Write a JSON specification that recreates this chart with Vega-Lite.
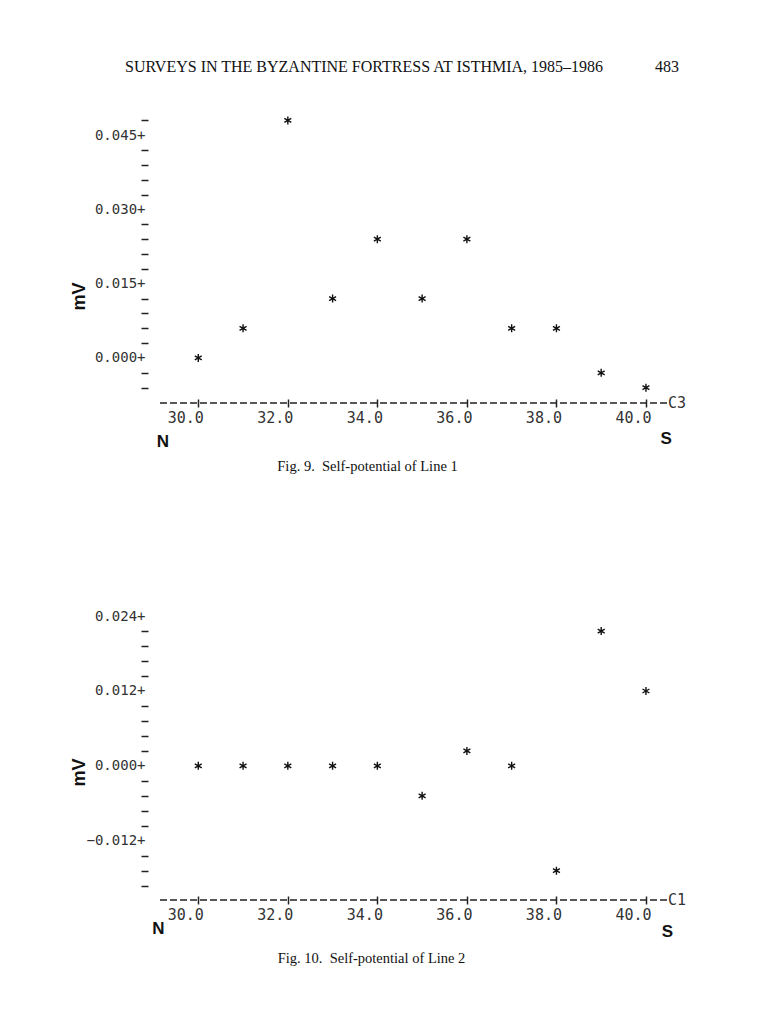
{
  "$schema": "https://vega.github.io/schema/vega-lite/v6.json",
  "background": "white",
  "padding": {"left": 70, "top": 59, "right": 10, "bottom": 10},
  "title": {
    "text": "SURVEYS IN THE BYZANTINE FORTRESS AT ISTHMIA, 1985–1986\u00a0\u00a0\u00a0\u00a0\u00a0\u00a0\u00a0\u00a0\u00a0\u00a0\u00a0\u00a0\u00a0483",
    "font": "Liberation Serif", "fontSize": 16, "fontWeight": "normal", "color": "#111",
    "anchor": "start", "dx": 55, "offset": 38
  },
  "spacing": 136,
  "config": {"view": {"stroke": null}},
  "datasets": {
    "line1": [
      {"pos": 30, "mv": 0.0}, {"pos": 31, "mv": 0.006}, {"pos": 32, "mv": 0.048},
      {"pos": 33, "mv": 0.012}, {"pos": 34, "mv": 0.024}, {"pos": 35, "mv": 0.012},
      {"pos": 36, "mv": 0.024}, {"pos": 37, "mv": 0.006}, {"pos": 38, "mv": 0.006},
      {"pos": 39, "mv": -0.003}, {"pos": 40, "mv": -0.006}
    ],
    "line2": [
      {"pos": 30, "mv": 0.0}, {"pos": 31, "mv": 0.0}, {"pos": 32, "mv": 0.0},
      {"pos": 33, "mv": 0.0}, {"pos": 34, "mv": 0.0}, {"pos": 35, "mv": -0.0048},
      {"pos": 36, "mv": 0.0024}, {"pos": 37, "mv": 0.0}, {"pos": 38, "mv": -0.0168},
      {"pos": 39, "mv": 0.0216}, {"pos": 40, "mv": 0.012}
    ]
  },
  "vconcat": [
    {
      "width": 509, "height": 285,
      "layer": [
        {
          "data": {"name": "line1"},
          "mark": {"type": "point", "shape": "M0,-1L0,1M-0.87,-0.5L0.87,0.5M-0.87,0.5L0.87,-0.5", "filled": false, "stroke": "#111", "strokeWidth": 1.4, "size": 64, "opacity": 1},
          "encoding": {
            "x": {
              "field": "pos", "type": "quantitative",
              "scale": {"domain": [29.1, 40.47], "nice": false, "zero": false},
              "axis": {
                "values": [30, 32, 34, 36, 38, 40], "format": ".1f", "tickCount": 100,
                "labelFont": "DejaVu Sans Mono", "labelFontSize": 15, "labelColor": "#333",
                "labelOffset": -13, "labelPadding": 3, "labelFlush": false, "labelOverlap": false,
                "tickSize": 8, "tickWidth": 1.5, "tickColor": "#222", "offset": -4,
                "domain": false, "grid": false,
                "title": "Fig. 9.\u00a0 Self-potential of Line 1",
                "titleFont": "Liberation Serif", "titleFontSize": 14.5, "titleFontWeight": "normal", "titleColor": "#111",
                "titleX": 209, "titleY": 67, "titleAlign": "center", "titleBaseline": "middle"
              }
            },
            "y": {
              "field": "mv", "type": "quantitative",
              "scale": {"domain": [-0.0091, 0.0485], "nice": false, "zero": false},
              "axis": {
                "values": [0.048, 0.045, 0.042, 0.039, 0.036, 0.033, 0.03, 0.027, 0.024, 0.021, 0.018, 0.015, 0.012, 0.009, 0.006, 0.003, 0, -0.003, -0.006],
                "tickCount": 100,
                "labelExpr": "indexof([0.045, 0.03, 0.015, 0], datum.value) >= 0 ? format(datum.value, '.3f') + '+' : ''",
                "labelFont": "DejaVu Sans Mono", "labelFontSize": 14, "labelColor": "#333",
                "labelPadding": -4, "labelFlush": false, "labelOverlap": false,
                "tickSize": 7, "tickWidth": 1.5, "tickColor": "#222",
                "tickOpacity": {"condition": {"test": "indexof([0.045, 0.03, 0.015, 0], datum.value) >= 0", "value": 0}, "value": 1},
                "domain": false, "grid": false, "offset": 10,
                "title": "mV", "titleFont": "Liberation Sans", "titleFontSize": 18, "titleFontWeight": "bold", "titleColor": "#111",
                "titleAngle": -90, "titleAlign": "center", "titleBaseline": "middle", "titleX": -69, "titleY": 178
              }
            }
          }
        },
        {
          "data": {"values": [{"k": 1}]},
          "mark": {"type": "rule", "stroke": "#222", "strokeWidth": 1.5, "strokeDash": [7, 3]},
          "encoding": {"y": {"datum": -0.0091, "type": "quantitative"}}
        },
        {
          "data": {"values": [{"k": 1}]},
          "mark": {"type": "text", "text": "C3", "font": "DejaVu Sans Mono", "fontSize": 15, "fill": "#333", "align": "left", "baseline": "middle", "dx": 1},
          "encoding": {"x": {"datum": 40.47, "type": "quantitative"}, "y": {"datum": -0.0091, "type": "quantitative"}}
        },
        {
          "data": {"values": [{"k": 1}]},
          "mark": {"type": "text", "text": "N", "font": "Liberation Sans", "fontSize": 17, "fontWeight": "bold", "fill": "#111", "align": "center", "baseline": "middle"},
          "encoding": {"x": {"datum": 29.21, "type": "quantitative"}, "y": {"datum": -0.01706, "type": "quantitative"}}
        },
        {
          "data": {"values": [{"k": 1}]},
          "mark": {"type": "text", "text": "S", "font": "Liberation Sans", "fontSize": 17, "fontWeight": "bold", "fill": "#111", "align": "center", "baseline": "middle"},
          "encoding": {"x": {"datum": 40.45, "type": "quantitative"}, "y": {"datum": -0.01635, "type": "quantitative"}}
        }
      ]
    },
    {
      "width": 509, "height": 287,
      "layer": [
        {
          "data": {"name": "line2"},
          "mark": {"type": "point", "shape": "M0,-1L0,1M-0.87,-0.5L0.87,0.5M-0.87,0.5L0.87,-0.5", "filled": false, "stroke": "#111", "strokeWidth": 1.4, "size": 64, "opacity": 1},
          "encoding": {
            "x": {
              "field": "pos", "type": "quantitative",
              "scale": {"domain": [29.1, 40.47], "nice": false, "zero": false},
              "axis": {
                "values": [30, 32, 34, 36, 38, 40], "format": ".1f", "tickCount": 100,
                "labelFont": "DejaVu Sans Mono", "labelFontSize": 15, "labelColor": "#333",
                "labelOffset": -13, "labelPadding": 3, "labelFlush": false, "labelOverlap": false,
                "tickSize": 8, "tickWidth": 1.5, "tickColor": "#222", "offset": -4,
                "domain": false, "grid": false,
                "title": "Fig. 10.\u00a0 Self-potential of Line 2",
                "titleFont": "Liberation Serif", "titleFontSize": 14.5, "titleFontWeight": "normal", "titleColor": "#111",
                "titleX": 213, "titleY": 62, "titleAlign": "center", "titleBaseline": "middle"
              }
            },
            "y": {
              "field": "mv", "type": "quantitative",
              "scale": {"domain": [-0.0215, 0.0245], "nice": false, "zero": false},
              "axis": {
                "values": [0.024, 0.0216, 0.0192, 0.0168, 0.0144, 0.012, 0.0096, 0.0072, 0.0048, 0.0024, 0, -0.0024, -0.0048, -0.0072, -0.0096, -0.012, -0.0144, -0.0168, -0.0192],
                "tickCount": 100,
                "labelExpr": "indexof([0.024, 0.012, 0, -0.012], datum.value) >= 0 ? format(datum.value, '.3f') + '+' : ''",
                "labelFont": "DejaVu Sans Mono", "labelFontSize": 14, "labelColor": "#333",
                "labelPadding": -4, "labelFlush": false, "labelOverlap": false,
                "tickSize": 7, "tickWidth": 1.5, "tickColor": "#222",
                "tickOpacity": {"condition": {"test": "indexof([0.024, 0.012, 0, -0.012], datum.value) >= 0", "value": 0}, "value": 1},
                "domain": false, "grid": false, "offset": 10,
                "title": "mV", "titleFont": "Liberation Sans", "titleFontSize": 18, "titleFontWeight": "bold", "titleColor": "#111",
                "titleAngle": -90, "titleAlign": "center", "titleBaseline": "middle", "titleX": -69, "titleY": 159
              }
            }
          }
        },
        {
          "data": {"values": [{"k": 1}]},
          "mark": {"type": "rule", "stroke": "#222", "strokeWidth": 1.5, "strokeDash": [7, 3]},
          "encoding": {"y": {"datum": -0.0215, "type": "quantitative"}}
        },
        {
          "data": {"values": [{"k": 1}]},
          "mark": {"type": "text", "text": "C1", "font": "DejaVu Sans Mono", "fontSize": 15, "fill": "#333", "align": "left", "baseline": "middle", "dx": 1},
          "encoding": {"x": {"datum": 40.47, "type": "quantitative"}, "y": {"datum": -0.0215, "type": "quantitative"}}
        },
        {
          "data": {"values": [{"k": 1}]},
          "mark": {"type": "text", "text": "N", "font": "Liberation Sans", "fontSize": 17, "fontWeight": "bold", "fill": "#111", "align": "center", "baseline": "middle"},
          "encoding": {"x": {"datum": 29.11, "type": "quantitative"}, "y": {"datum": -0.02614, "type": "quantitative"}}
        },
        {
          "data": {"values": [{"k": 1}]},
          "mark": {"type": "text", "text": "S", "font": "Liberation Sans", "fontSize": 17, "fontWeight": "bold", "fill": "#111", "align": "center", "baseline": "middle"},
          "encoding": {"x": {"datum": 40.48, "type": "quantitative"}, "y": {"datum": -0.0267, "type": "quantitative"}}
        }
      ]
    }
  ]
}
